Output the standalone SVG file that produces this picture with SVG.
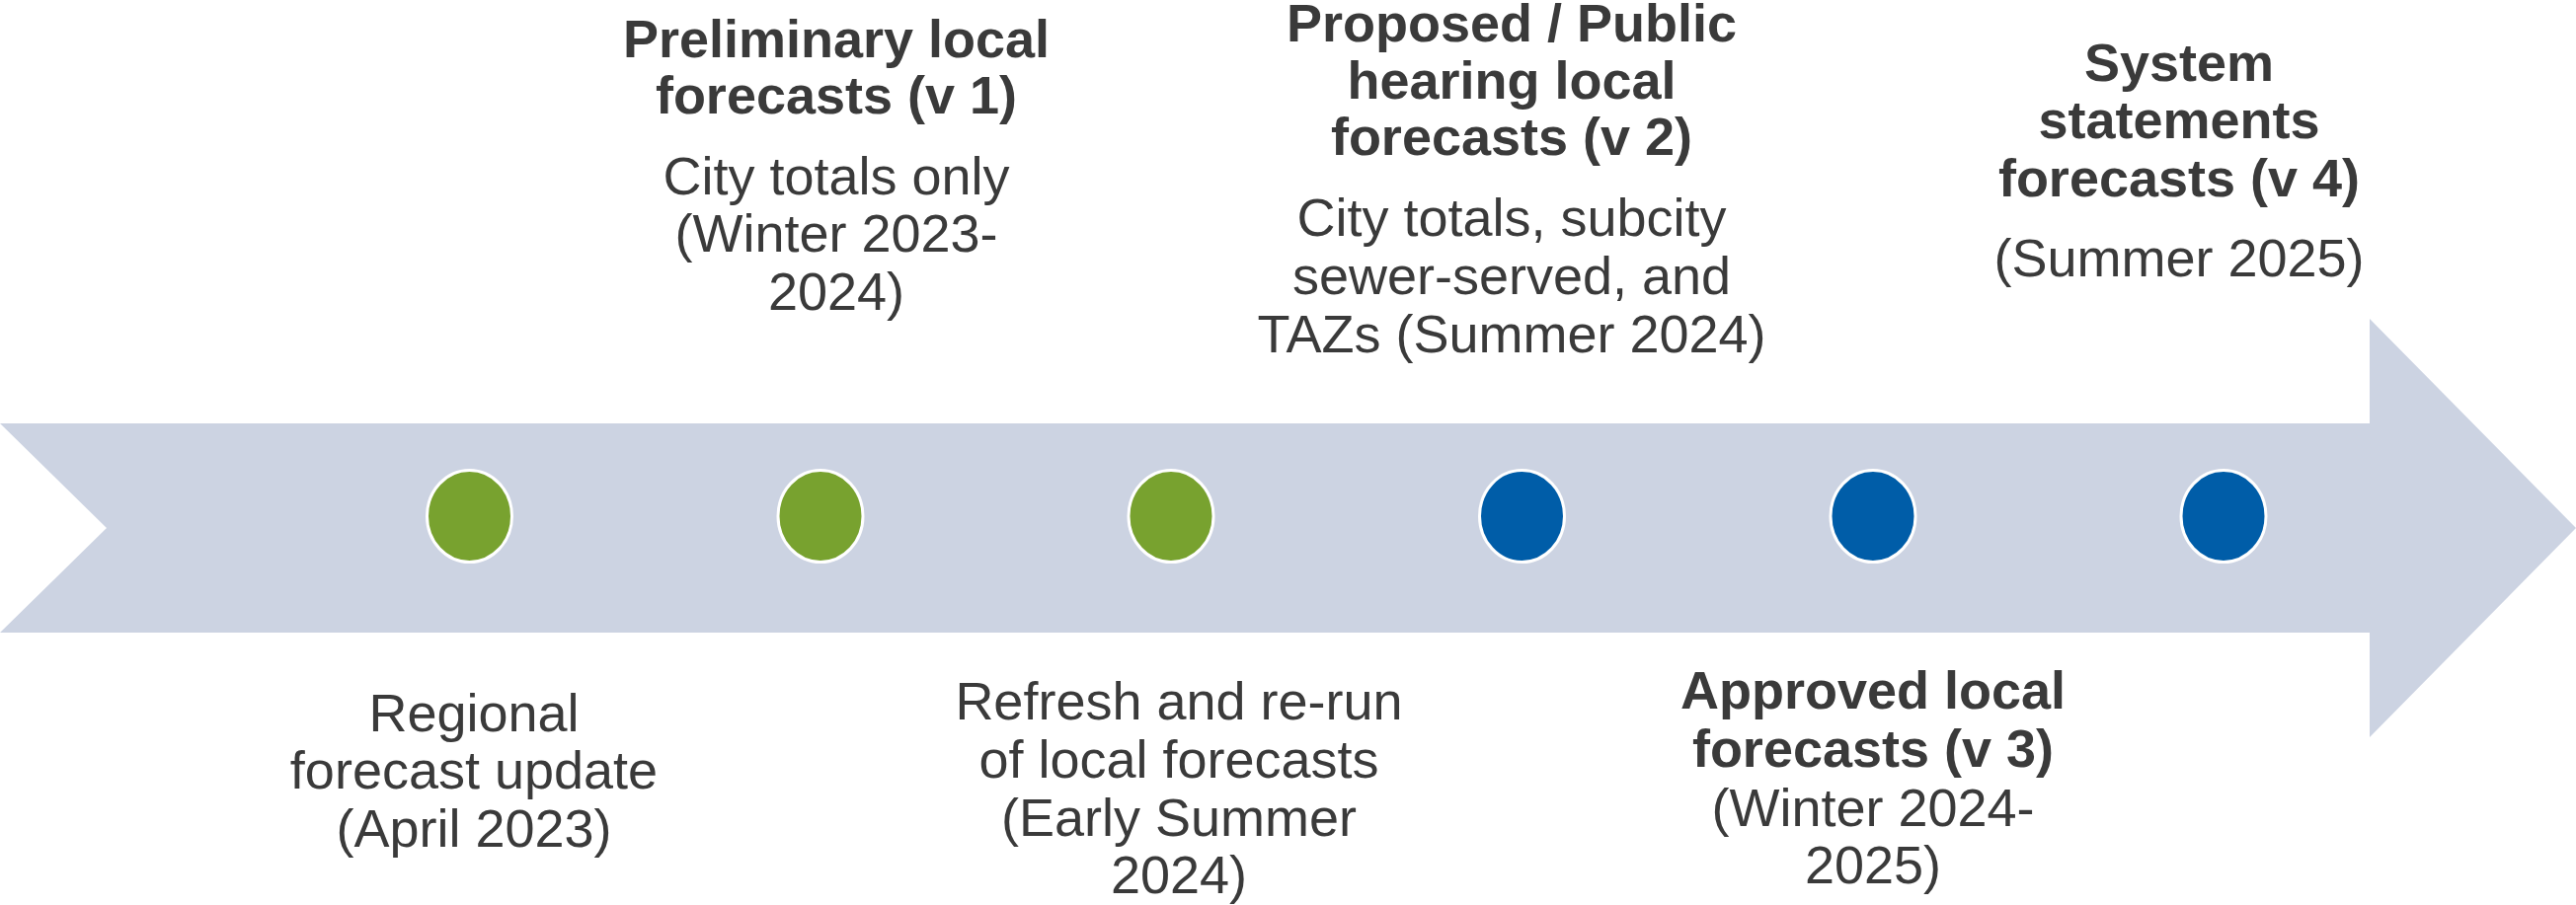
<svg xmlns="http://www.w3.org/2000/svg" width="2609" height="917" viewBox="0 0 2609 917">
<style>
.t{font-family:"Liberation Sans",Arial,sans-serif;font-size:54px;fill:#3a3a3a;text-anchor:middle}
.b{font-weight:bold}
.g{fill:#78A22F;stroke:#fff;stroke-width:3}
.bl{fill:#005DA8;stroke:#fff;stroke-width:3}
</style>
<rect width="2609" height="917" fill="#fff"/>
<g id="timeline-arrow">
<path d="M0,429 L2400,429 L2400,323 L2609,535 L2400,747 L2400,641 L0,641 L108,535 Z" fill="#CCD3E2"/>
</g>
<g id="connectors"></g>
<g id="m1"><ellipse class="g" cx="475.5" cy="523" rx="43" ry="46.5"/></g>
<g id="m2"><ellipse class="g" cx="831" cy="523" rx="43" ry="46.5"/></g>
<g id="m3"><ellipse class="g" cx="1186" cy="523" rx="43" ry="46.5"/></g>
<g id="m4"><ellipse class="bl" cx="1541.5" cy="523" rx="43" ry="46.5"/></g>
<g id="m5"><ellipse class="bl" cx="1897" cy="523" rx="43" ry="46.5"/></g>
<g id="m6"><ellipse class="bl" cx="2252" cy="523" rx="43" ry="46.5"/></g>
<g id="label-regional">
<text class="t" x="480" y="741">Regional</text>
<text class="t" x="480" y="799">forecast update</text>
<text class="t" x="480" y="858">(April 2023)</text>
</g>
<g id="label-preliminary">
<text class="t b" x="847" y="58">Preliminary local</text>
<text class="t b" x="847" y="115">forecasts (v 1)</text>
<text class="t" x="847" y="197">City totals only</text>
<text class="t" x="847" y="255">(Winter 2023-</text>
<text class="t" x="847" y="314">2024)</text>
</g>
<g id="label-refresh">
<text class="t" x="1194" y="729">Refresh and re-run</text>
<text class="t" x="1194" y="788">of local forecasts</text>
<text class="t" x="1194" y="847">(Early Summer</text>
<text class="t" x="1194" y="905">2024)</text>
</g>
<g id="label-proposed">
<text class="t b" x="1531" y="42">Proposed / Public</text>
<text class="t b" x="1531" y="100">hearing local</text>
<text class="t b" x="1531" y="157">forecasts (v 2)</text>
<text class="t" x="1531" y="239">City totals, subcity</text>
<text class="t" x="1531" y="298">sewer-served, and</text>
<text class="t" x="1531" y="357">TAZs (Summer 2024)</text>
</g>
<g id="label-approved">
<text class="t b" x="1897" y="718">Approved local</text>
<text class="t b" x="1897" y="777">forecasts (v 3)</text>
<text class="t" x="1897" y="837">(Winter 2024-</text>
<text class="t" x="1897" y="895">2025)</text>
</g>
<g id="label-system">
<text class="t b" x="2207" y="82">System</text>
<text class="t b" x="2207" y="140">statements</text>
<text class="t b" x="2207" y="199">forecasts (v 4)</text>
<text class="t" x="2207" y="280">(Summer 2025)</text>
</g>
</svg>
